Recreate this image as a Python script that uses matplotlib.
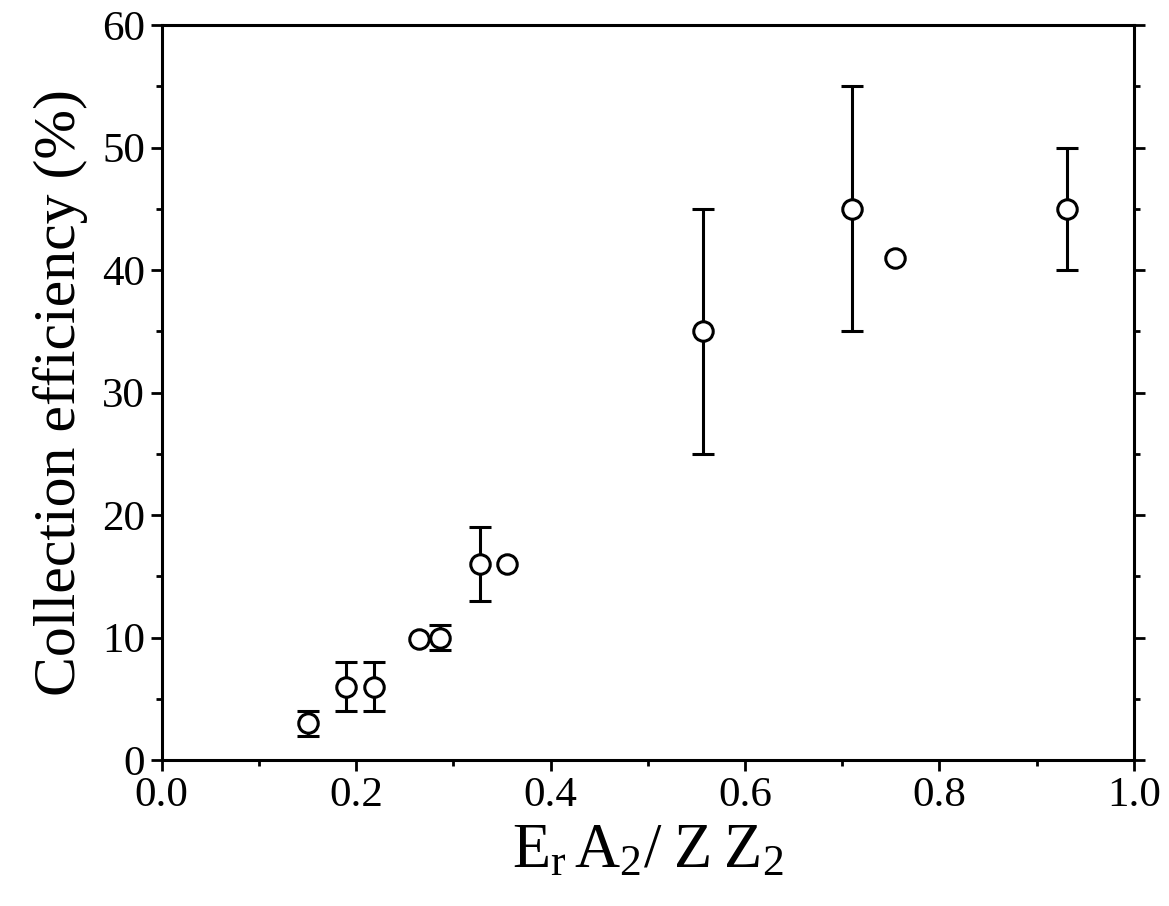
import matplotlib
matplotlib.use("Agg")
import matplotlib.pyplot as plt
from matplotlib.ticker import MultipleLocator, FormatStrFormatter

plt.rcParams['font.family'] = ['Liberation Serif', 'DejaVu Serif']
plt.rcParams['mathtext.fontset'] = 'custom'
plt.rcParams['mathtext.rm'] = 'Liberation Serif'
plt.rcParams['mathtext.it'] = 'Liberation Serif:italic'

# Data
x_vals = [0.150, 0.190, 0.218, 0.265, 0.286, 0.327, 0.355, 0.557, 0.710, 0.754, 0.931]
y_vals = [3.0, 6.0, 6.0, 9.9, 10.0, 16.0, 16.0, 35.0, 45.0, 41.0, 45.0]
y_err = [1.0, 2.0, 2.0, 0.0, 1.0, 3.0, 0.0, 10.0, 10.0, 0.0, 5.0]

x_ticks = [0.0, 0.2, 0.4, 0.6, 0.8, 1.0]
y_ticks = [0, 10, 20, 30, 40, 50, 60]
x_label = r'$\mathregular{E_r\,A_2/\;Z\;Z_2}$'
y_label = 'Collection efficiency (%)'

fig = plt.figure(figsize=(11.69, 9.06), dpi=100)
ax = fig.add_axes([0.1383, 0.1611, 0.8317, 0.8113])

with_err = [i for i, e in enumerate(y_err) if e > 0]

ax.errorbar([x_vals[i] for i in with_err], [y_vals[i] for i in with_err],
            yerr=[y_err[i] for i in with_err], fmt='none', ecolor='black',
            elinewidth=2.2, capsize=8, capthick=2.2, zorder=2)
ax.plot(x_vals, y_vals, linestyle='none', marker='o', markersize=14,
        markerfacecolor='white', markeredgecolor='black', markeredgewidth=2.2,
        zorder=3)

ax.set_xlim(0.0, 1.0)
ax.set_ylim(0, 60)
ax.set_xticks(x_ticks)
ax.set_yticks(y_ticks)
ax.xaxis.set_major_formatter(FormatStrFormatter('%.1f'))
ax.xaxis.set_minor_locator(MultipleLocator(0.1))
ax.yaxis.set_minor_locator(MultipleLocator(5))

for s in ax.spines.values():
    s.set_linewidth(2.2)

ax.tick_params(which='both', direction='out', width=2.0, labelsize=31,
               top=False, right=True, labelright=False)
ax.tick_params(which='major', length=8, pad=4)
ax.tick_params(which='minor', length=4.5)

ax.set_xlabel(x_label, fontsize=45, labelpad=6)
ax.set_ylabel(y_label, fontsize=43, labelpad=10)

fig.savefig('out.png', dpi=100, facecolor='white')
